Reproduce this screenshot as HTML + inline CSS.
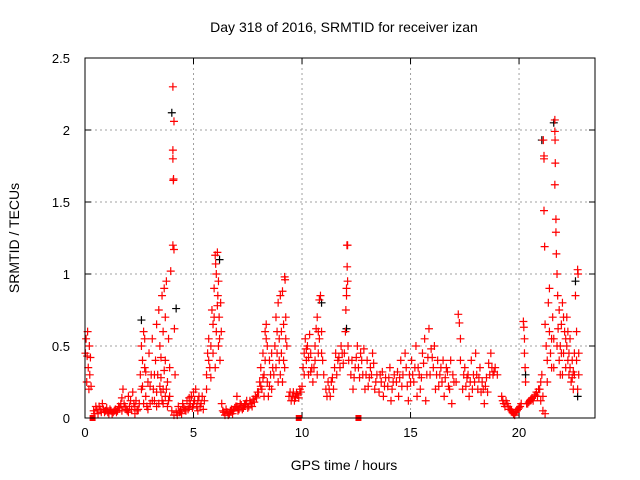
<!DOCTYPE html>
<html><head><meta charset="utf-8"><style>
body{margin:0;background:#fff}
svg{display:block;font-family:"Liberation Sans",sans-serif}
</style></head><body>
<svg id="chart" width="640" height="480" viewBox="0 0 640 480">
<rect width="640" height="480" fill="#fff"/>
<text x="344" y="32" font-size="14" text-anchor="middle">Day 318 of 2016, SRMTID for receiver izan</text>
<text x="344" y="470" font-size="14" text-anchor="middle">GPS time / hours</text>
<text transform="translate(19,238) rotate(-90)" font-size="14" text-anchor="middle">SRMTID / TECUs</text>
<g id="grid"></g><g id="ticks"></g><g id="black"></g><g id="red"></g>
<rect x="85" y="58" width="510" height="360" fill="none" stroke="#000" stroke-width="1"/>
</svg>
<script>
const xTicks=[0,5,10,15,20];
const yTicks=[0,0.5,1,1.5,2,2.5];
const yTickLabels=["0","0.5","1","1.5","2","2.5"];
const squarePoints=[[0.35,0],[9.85,0],[12.6,0]];
const blackPoints=[[4.0,2.12],[4.2,0.76],[6.2,1.1],[21.6,2.05],[21.05,1.93],[12.05,0.62],[2.6,0.68],[22.6,0.95],[22.7,0.15],[20.3,0.3],[10.9,0.8]];
const redPoints=[
[0.02,0.45],[0.05,0.55],[0.08,0.25],[0.1,0.43],[0.12,0.6],[0.15,0.35],[0.18,0.2],[0.2,0.5],[0.22,0.3],[0.25,0.42],[0.28,0.22],
[0.4,0.05],[0.5,0.08],[0.6,0.03],[0.7,0.06],[0.8,0.1],[0.9,0.04],[1.0,0.07],[1.1,0.03],[1.2,0.05],[1.3,0.04],[1.4,0.06],[1.5,0.05],[1.6,0.07],[1.7,0.14],[1.75,0.2],[1.8,0.1],[1.9,0.06],[2.0,0.04],[2.1,0.12],[2.2,0.18],[2.3,0.08],[2.4,0.05],[2.5,0.1],
[0.45,0.03],[0.55,0.06],[0.65,0.08],[0.75,0.04],[0.85,0.06],[0.95,0.05],[1.05,0.04],[1.15,0.06],[1.25,0.03],[1.35,0.05],[1.45,0.04],[1.55,0.08],[1.65,0.1],[1.85,0.08],[1.95,0.05],[2.05,0.08],[2.15,0.06],[2.25,0.1],[2.35,0.12],[2.45,0.06],[1.7,0.05],[2.0,0.15],[2.3,0.03],
[2.55,0.3],[2.6,0.5],[2.65,0.22],[2.7,0.6],[2.75,0.35],[2.8,0.15],[2.85,0.08],[2.9,0.25],[2.95,0.45],[3.0,0.1],[3.05,0.3],[3.1,0.55],[3.15,0.2],[3.2,0.12],[3.25,0.4],[3.3,0.65],[3.35,0.3],[3.4,0.75],[3.45,0.5],[3.5,0.18],[3.55,0.85],[3.6,0.6],[3.65,0.9],[3.7,0.4],[3.75,0.95],[3.8,0.25],[3.85,0.55],[3.9,0.15],[3.95,1.02],[3.6,0.1],[3.7,0.7],[3.5,0.42],[3.3,0.08],
[2.6,0.2],[2.7,0.1],[2.8,0.32],[2.9,0.06],[3.0,0.22],[3.1,0.12],[3.2,0.3],[3.3,0.18],[3.4,0.1],[3.5,0.28],[3.6,0.2],[3.7,0.15],[3.8,0.08],[3.9,0.35],[3.45,0.22],[3.55,0.12],[3.65,0.33],[3.75,0.2],[3.85,0.12],[2.75,0.55],[2.65,0.4],
[4.05,2.3],[4.05,1.86],[4.1,2.06],[4.05,1.8],[4.07,1.65],[4.08,1.66],[4.05,1.2],[4.1,1.17],[4.12,0.62],[4.15,0.3],[4.0,0.05],[4.1,0.02],[4.2,0.04],[4.3,0.08],[4.4,0.05],[4.5,0.1],[4.6,0.06],[4.7,0.12],[4.8,0.08],[4.9,0.15],[5.0,0.1],[5.1,0.2],[5.2,0.12],[5.3,0.08],[5.4,0.15],[5.5,0.12],
[4.25,0.02],[4.35,0.04],[4.45,0.03],[4.55,0.07],[4.65,0.05],[4.75,0.06],[4.85,0.1],[4.95,0.07],[5.05,0.12],[5.15,0.08],[5.25,0.15],[5.35,0.1],[5.45,0.06],[5.0,0.18],[4.8,0.14],[5.2,0.05],
[5.6,0.3],[5.65,0.45],[5.7,0.55],[5.75,0.35],[5.8,0.5],[5.85,0.75],[5.9,0.65],[5.95,0.9],[6.0,1.13],[6.02,1.07],[6.05,1.0],[6.1,1.15],[6.12,0.85],[6.15,0.95],[6.18,0.7],[6.2,0.55],[6.22,0.4],[6.25,0.8],[6.28,0.6],[6.0,0.35],[6.3,0.1],
[5.6,0.2],[5.7,0.4],[5.8,0.28],[5.9,0.45],[6.05,0.6],[6.15,0.5],[5.95,0.7],[6.1,0.78],
[6.35,0.05],[6.45,0.02],[6.55,0.04],[6.65,0.03],[6.75,0.06],[6.85,0.05],[6.95,0.08],[7.05,0.05],[7.15,0.1],[7.25,0.06],[7.35,0.09],[7.45,0.12],[7.55,0.08],[7.65,0.1],[7.75,0.13],[7.85,0.15],[7.95,0.18],
[6.4,0.04],[6.5,0.06],[6.6,0.02],[6.7,0.05],[6.8,0.03],[6.9,0.07],[7.0,0.08],[7.1,0.06],[7.2,0.09],[7.3,0.07],[7.4,0.1],[7.5,0.07],[7.6,0.12],[7.7,0.08],[7.8,0.11],[7.9,0.14],[7.0,0.15],
[8.05,0.25],[8.1,0.35],[8.15,0.2],[8.2,0.45],[8.25,0.3],[8.3,0.6],[8.35,0.55],[8.4,0.25],[8.45,0.15],[8.5,0.4],[8.55,0.3],[8.6,0.2],[8.65,0.35],
[8.0,0.18],[8.1,0.22],[8.2,0.28],[8.3,0.4],[8.4,0.5],[8.5,0.22],[8.6,0.45],[8.7,0.3],[8.35,0.65],[8.25,0.15],
[8.75,0.5],[8.8,0.7],[8.85,0.45],[8.9,0.8],[8.95,0.55],[9.0,0.3],[9.05,0.6],[9.1,0.88],[9.15,0.4],[9.2,0.98],[9.22,0.96],[9.25,0.7],[9.3,0.5],[9.0,0.85],[8.9,0.25],
[8.8,0.35],[8.95,0.4],[9.05,0.45],[9.1,0.25],[9.2,0.35],[9.25,0.55],[8.85,0.6],[9.15,0.65],
[9.4,0.15],[9.5,0.12],[9.6,0.18],[9.7,0.14],[9.8,0.16],[9.9,0.2],[10.0,0.22],[9.45,0.18],[9.55,0.15],[9.65,0.12],[9.75,0.17],[9.85,0.14],[9.95,0.18],
[10.05,0.35],[10.1,0.45],[10.15,0.55],[10.2,0.4],[10.25,0.5],[10.3,0.3],[10.35,0.58],[10.4,0.45],[10.45,0.35],[10.5,0.25],
[10.55,0.35],[10.6,0.5],[10.65,0.62],[10.7,0.7],[10.75,0.45],[10.8,0.82],[10.85,0.85],[10.9,0.6],[10.95,0.4],[11.0,0.3],
[10.1,0.3],[10.2,0.48],[10.3,0.42],[10.4,0.32],[10.6,0.4],[10.7,0.3],[10.8,0.55],[10.9,0.45],[10.75,0.6],
[11.1,0.2],[11.2,0.25],[11.3,0.15],[11.4,0.28],[11.5,0.35],[11.55,0.45],[11.6,0.3],[11.7,0.42],[11.8,0.5],[11.9,0.38],[11.95,0.45],
[11.15,0.15],[11.25,0.2],[11.35,0.25],[11.45,0.2],[11.65,0.4],[11.75,0.35],[11.85,0.45],
[12.0,0.6],[12.02,0.75],[12.05,0.9],[12.07,1.2],[12.1,1.2],[12.08,1.05],[12.05,0.85],[12.1,0.95],[12.12,0.5],[12.15,0.4],
[12.25,0.3],[12.35,0.2],[12.45,0.35],[12.55,0.5],[12.65,0.28],[12.75,0.4],[12.85,0.48],[12.95,0.3],[13.05,0.22],[13.15,0.35],[13.25,0.45],[13.35,0.2],[13.45,0.3],[13.55,0.18],[13.65,0.25],[13.75,0.15],[13.85,0.28],[13.95,0.22],[14.05,0.35],[14.15,0.2],[14.25,0.3],[14.35,0.25],[14.45,0.15],[14.55,0.4],[14.65,0.3],[14.75,0.45],[14.85,0.22],[14.95,0.3],
[12.5,0.42],[12.9,0.2],[13.3,0.38],[13.7,0.32],[14.1,0.12],[14.5,0.28],[14.9,0.12],
[12.3,0.4],[12.4,0.28],[12.6,0.35],[12.7,0.45],[12.8,0.3],[13.0,0.4],[13.1,0.28],[13.2,0.3],[13.4,0.25],[13.6,0.3],[13.8,0.22],[14.0,0.28],[14.2,0.25],[14.4,0.32],[14.6,0.22],[14.8,0.35],[15.0,0.25],
[15.05,0.4],[15.15,0.25],[15.25,0.5],[15.35,0.35],[15.45,0.2],[15.55,0.45],[15.65,0.55],[15.75,0.3],[15.85,0.62],[15.95,0.48],[16.05,0.35],[16.15,0.2],[16.25,0.4],[16.35,0.3],[16.45,0.25],[16.55,0.15],[16.65,0.35],[16.75,0.22],[16.85,0.4],[16.95,0.3],
[15.3,0.15],[15.7,0.12],[16.1,0.5],[16.5,0.4],[16.9,0.1],
[15.1,0.3],[15.2,0.35],[15.4,0.3],[15.5,0.28],[15.6,0.38],[15.8,0.42],[15.9,0.3],[16.0,0.42],[16.2,0.3],[16.3,0.22],[16.4,0.35],[16.6,0.28],[16.7,0.32],[16.8,0.2],[17.0,0.25],
[17.2,0.72],[17.25,0.66],[17.3,0.55],[17.3,0.4],[17.1,0.25],[17.4,0.2],[17.5,0.35],[17.6,0.28],[17.7,0.15],[17.8,0.4],[17.9,0.3],[18.0,0.45],[18.1,0.2],[18.2,0.35],[18.3,0.25],[18.4,0.1],[18.5,0.28],[18.6,0.38],[18.7,0.45],[18.8,0.3],[18.9,0.35],[19.0,0.3],
[17.45,0.3],[17.55,0.22],[17.65,0.3],[17.75,0.25],[17.85,0.2],[17.95,0.25],[18.05,0.3],[18.15,0.28],[18.25,0.18],[18.35,0.2],[18.45,0.22],[18.55,0.18],[18.65,0.3],[18.75,0.35],[18.85,0.32],
[19.2,0.15],[19.3,0.1],[19.4,0.12],[19.5,0.08],[19.6,0.06],[19.7,0.04],[19.8,0.02],[19.9,0.05],[20.0,0.07],[20.1,0.1],
[19.25,0.12],[19.35,0.08],[19.45,0.1],[19.55,0.06],[19.65,0.05],[19.75,0.03],[19.85,0.04],[19.95,0.06],[20.05,0.08],
[20.2,0.67],[20.22,0.63],[20.25,0.55],[20.25,0.45],[20.28,0.35],[20.3,0.25],[20.4,0.1],[20.5,0.12],[20.6,0.14],[20.7,0.15],[20.8,0.18],[20.9,0.2],[21.0,0.25],
[20.35,0.1],[20.45,0.11],[20.55,0.13],[20.65,0.12],[20.75,0.16],[20.85,0.15],[20.95,0.2],[21.0,0.12],[21.1,0.05],[21.2,0.03],
[21.05,0.3],[21.1,0.15],[21.15,1.8],[21.12,1.93],[21.15,1.82],[21.15,1.44],[21.18,1.19],[21.2,0.65],[21.25,0.5],[21.3,0.4],[21.35,0.8],[21.4,0.9],[21.45,0.45],[21.5,0.35],[21.55,0.7],[21.6,0.55],[21.65,2.07],[21.65,1.99],[21.66,1.93],[21.67,1.77],[21.65,1.62],[21.7,1.38],[21.7,1.29],[21.72,1.14],[21.75,1.0],[21.78,0.85],[21.8,0.62],[21.85,0.75],[21.9,0.5],[21.95,0.65],[22.0,0.8],[22.05,0.45],[22.1,0.6],[22.15,0.35],[22.2,0.5],[22.25,0.4],[22.3,0.3],[22.35,0.55],[22.4,0.25],[22.45,0.4],[22.5,0.32],[22.55,0.45],[22.6,0.85],[22.65,0.6],[22.7,1.03],[22.72,1.0],[22.75,0.45],[22.7,0.2],[22.5,0.2],[21.9,0.3],[22.2,0.7],
[21.3,0.25],[21.4,0.6],[21.5,0.55],[21.6,0.35],[21.75,0.5],[21.85,0.4],[21.95,0.45],[22.05,0.7],[22.15,0.55],[22.25,0.6],[22.35,0.35],[22.45,0.28],[22.55,0.3],[22.65,0.4],[22.75,0.3],[22.0,0.3],[22.3,0.45]
];
const NS="http://www.w3.org/2000/svg";
const L=85,R=595,T=58,B=418,XMAX=23.5,YMAX=2.5;
function xs(t){return L+t/XMAX*(R-L);}
function ys(v){return B-v/YMAX*(B-T);}
function mk(tag,attrs,parent){const e=document.createElementNS(NS,tag);for(const k in attrs)e.setAttribute(k,attrs[k]);parent.appendChild(e);return e;}
const grid=document.getElementById('grid'),ticks=document.getElementById('ticks');
xTicks.forEach(t=>{
  const x=xs(t);
  if(t>0){const g=mk('line',{x1:x,x2:x,y1:T,y2:B,stroke:'#a0a0a0','stroke-dasharray':'2,3'},grid);
  
  }
  mk('line',{x1:x,x2:x,y1:B,y2:B-6,stroke:'#000'},ticks);
  mk('line',{x1:x,x2:x,y1:T,y2:T+6,stroke:'#000'},ticks);
  const tx=mk('text',{x:x,y:B+19,'font-size':13,'text-anchor':'middle'},ticks);
  tx.textContent=String(t);
  
  
});
yTicks.forEach((v,i)=>{
  const y=ys(v);
  if(v>0&&v<YMAX){const g=mk('line',{x1:L,x2:R,y1:y,y2:y,stroke:'#a0a0a0','stroke-dasharray':'2,3'},grid);
  
  }
  mk('line',{x1:L,x2:L+6,y1:y,y2:y,stroke:'#000'},ticks);
  mk('line',{x1:R,x2:R-6,y1:y,y2:y,stroke:'#000'},ticks);
  const tx=mk('text',{x:L-15,y:y+5,'font-size':13,'text-anchor':'end'},ticks);
  tx.textContent=yTickLabels[i];
  
  
});
function plus(p,parent,color,name){
  const x=xs(p[0]),y=ys(p[1]);
  const e=mk('path',{d:`M${x-4},${y}H${x+4}M${x},${y-4}V${y+4}`,stroke:color,'stroke-width':1.2,fill:'none'},parent);
  
  
}
const bg=document.getElementById('black'),rg=document.getElementById('red');
blackPoints.forEach(p=>plus(p,bg,'#000','black-point'));
redPoints.forEach(p=>plus(p,rg,'#ff0000','red-point'));
squarePoints.forEach(p=>{
  const e=mk('rect',{x:xs(p[0])-3,y:ys(p[1])-3,width:6,height:6,fill:'#ff0000'},rg);
  
  
});
</script>
</body></html>
